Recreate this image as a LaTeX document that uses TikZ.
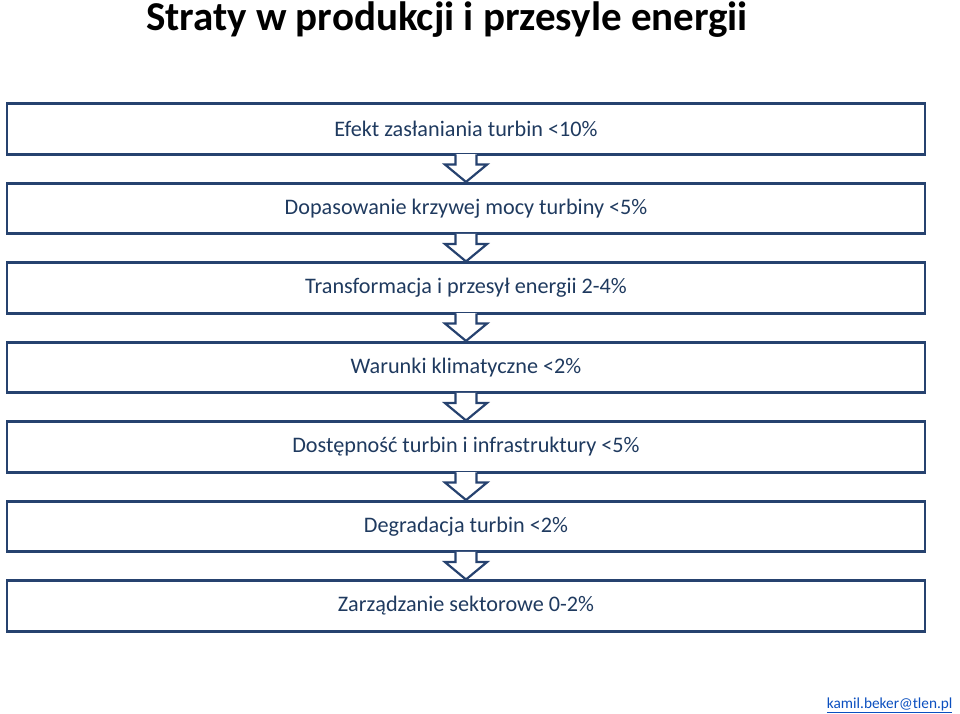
\documentclass[tikz,border=0pt]{standalone}
\usepackage{fontspec}
\setmainfont{Carlito}
\usetikzlibrary{positioning,calc}
\definecolor{ramka}{HTML}{26426F}
\definecolor{napis}{HTML}{1F3A5F}
\definecolor{link}{HTML}{0B4FBF}

\begin{document}
\begin{tikzpicture}[x=1pt,y=-1pt,
    etap/.style={draw=ramka,line width=2.6pt,minimum width=918pt,minimum height=50.5pt,
      text=napis,font=\fontsize{22.2}{26}\selectfont,inner sep=0pt},
    strzalka/.style={draw=ramka,line width=2.2pt,line join=miter,fill=white}]
  \useasboundingbox (0,0) rectangle (960,713);
  \node[font=\bfseries\fontsize{41}{48}\selectfont,anchor=base,inner sep=0pt] (tytul) at (447,30) {Straty w produkcji i przesyle energii};
  % kolejne etapy strat
  \foreach \i/\t in {1/Efekt zasłaniania turbin <10\%,
                     2/Dopasowanie krzywej mocy turbiny <5\%,
                     3/Transformacja i przesył energii 2-4\%,
                     4/Warunki klimatyczne <2\%,
                     5/Dostępność turbin i infrastruktury <5\%,
                     6/Degradacja turbin <2\%,
                     7/Zarządzanie sektorowe 0-2\%}
    \node[etap] (b\i) at (466,{129+(\i-1)*79.5}) {\t};
  % strzalki miedzy etapami
  \foreach \i [evaluate=\i as \j using int(\i+1)] in {1,...,6} {
    \fill[white] ($(b\i.south)+(-10.5,-1.5)$) rectangle ($(b\i.south)+(10.5,10)$);
    \draw[strzalka] ($(b\i.south)+(-10.5,-1.3)$) -- ($(b\i.south)+(-10.5,9)$) -- ($(b\i.south)+(-21,9)$)
      -- (b\j.north) -- ($(b\i.south)+(21,9)$) -- ($(b\i.south)+(10.5,9)$) -- ($(b\i.south)+(10.5,-1.3)$);
  }
  \node[text=link,font=\fontsize{15.3}{18}\selectfont,anchor=east] (mail) at (956,705) {\underline{kamil.beker@tlen.pl}};
\end{tikzpicture}
\end{document}
